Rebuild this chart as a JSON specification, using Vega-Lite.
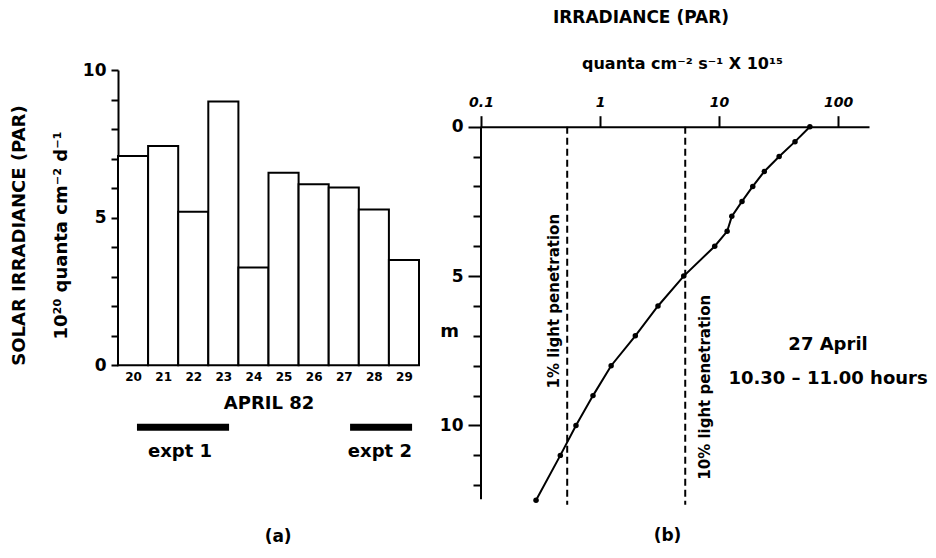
{
  "$schema": "https://vega.github.io/schema/vega-lite/v6.json",
  "background": "white",
  "padding": {"left": 10, "top": 8, "right": 0, "bottom": 0},
  "autosize": {"type": "pad"},
  "spacing": 19,
  "datasets": {
    "solar": [
      {"day": 20, "irradiance": 7.09},
      {"day": 21, "irradiance": 7.43},
      {"day": 22, "irradiance": 5.2},
      {"day": 23, "irradiance": 8.93},
      {"day": 24, "irradiance": 3.31},
      {"day": 25, "irradiance": 6.52},
      {"day": 26, "irradiance": 6.13},
      {"day": 27, "irradiance": 6.02},
      {"day": 28, "irradiance": 5.28},
      {"day": 29, "irradiance": 3.57}
    ],
    "expts": [
      {"label": "expt 1", "start": 20.13, "end": 23.19, "mid": 21.56},
      {"label": "expt 2", "start": 27.21, "end": 29.27, "mid": 28.2}
    ],
    "profile": [
      {"depth": 0, "irr": 58},
      {"depth": 0.5, "irr": 43.5},
      {"depth": 1, "irr": 32},
      {"depth": 1.5, "irr": 24},
      {"depth": 2, "irr": 19.2},
      {"depth": 2.5, "irr": 15.6},
      {"depth": 3, "irr": 12.8},
      {"depth": 3.5, "irr": 11.7},
      {"depth": 4, "irr": 9.2},
      {"depth": 5, "irr": 5.05},
      {"depth": 6, "irr": 3.07},
      {"depth": 7, "irr": 1.98},
      {"depth": 8, "irr": 1.24},
      {"depth": 9, "irr": 0.873},
      {"depth": 10, "irr": 0.628},
      {"depth": 11, "irr": 0.464},
      {"depth": 12.5, "irr": 0.29}
    ],
    "penetration": [
      {"label": "1% light penetration", "irr": 0.53, "labelIrr": 0.408, "labelDepth": 5.84},
      {"label": "10% light penetration", "irr": 5.2, "labelIrr": 7.63, "labelDepth": 8.72}
    ],
    "notes": [
      {"text": "27 April", "irr": 82.4, "depth": 7.32},
      {"text": "10.30 – 11.00 hours", "irr": 82.4, "depth": 8.45}
    ]
  },
  "config": {
    "view": {"stroke": null},
    "axis": {
      "domainColor": "black", "tickColor": "black", "labelColor": "black", "titleColor": "black",
      "labelFont": "DejaVu Sans", "titleFont": "DejaVu Sans",
      "labelFontWeight": "bold", "titleFontWeight": "bold",
      "domainWidth": 2, "tickWidth": 2, "grid": false
    },
    "text": {"font": "DejaVu Sans", "fontWeight": "bold", "color": "black"},
    "title": {"font": "DejaVu Sans", "fontWeight": "bold", "color": "black"}
  },
  "hconcat": [
    {
      "width": 301,
      "height": 295.3,
      "resolve": {"axis": {"x": "independent", "y": "independent"}},
      "layer": [
        {
          "data": {"name": "solar"},
          "mark": {"type": "bar", "orient": "vertical", "width": 30.1, "fill": "white", "stroke": "black", "strokeWidth": 2},
          "encoding": {
            "x": {
              "field": "day", "type": "quantitative",
              "scale": {"domain": [19.5, 29.5], "nice": false, "zero": false, "padding": 0},
              "axis": {
                "orient": "bottom", "values": [20, 21, 22, 23, 24, 25, 26, 27, 28, 29],
                "ticks": false, "domain": false, "labelFontSize": 12, "labelPadding": 6,
                "labelFlush": false, "format": "d",
                "title": "APRIL 82", "titleFontSize": 18, "titlePadding": 12
              }
            },
            "y": {
              "field": "irradiance", "type": "quantitative",
              "scale": {"domain": [0, 10], "nice": false, "padding": 0},
              "axis": {
                "orient": "left",
                "values": [0, 1, 2, 3, 4, 5, 6, 7, 8, 9, 10],
                "tickSize": 7,
                "labelExpr": "datum.value % 5 === 0 ? datum.label : ''",
                "labelFontSize": 17, "labelPadding": 5,
                "title": ["SOLAR IRRADIANCE (PAR)", "10²⁰ quanta cm⁻² d⁻¹"],
                "titleFontSize": 18, "titleLineHeight": 42, "titlePadding": 12, "titleY": 165
              }
            }
          }
        },
        {
          "data": {"name": "expts"},
          "mark": {"type": "rule", "strokeWidth": 7, "color": "black"},
          "encoding": {
            "x": {"field": "start", "type": "quantitative", "axis": null},
            "x2": {"field": "end"},
            "y": {"datum": -2.1, "type": "quantitative", "axis": null}
          }
        },
        {
          "data": {"name": "expts"},
          "mark": {"type": "text", "fontSize": 18, "baseline": "middle", "align": "center"},
          "encoding": {
            "x": {"field": "mid", "type": "quantitative", "axis": null},
            "y": {"datum": -2.95, "type": "quantitative", "axis": null},
            "text": {"field": "label"}
          }
        },
        {
          "data": {"values": [{"panel": "(a)"}]},
          "mark": {"type": "text", "fontSize": 17, "baseline": "middle", "align": "center"},
          "encoding": {
            "x": {"datum": 24.82, "type": "quantitative", "axis": null},
            "y": {"datum": -5.8, "type": "quantitative", "axis": null},
            "text": {"field": "panel"}
          }
        }
      ]
    },
    {
      "width": 388,
      "height": 429.3,
      "title": {"text": "IRRADIANCE (PAR)", "fontSize": 17, "dx": -34, "offset": 29, "anchor": "middle"},
      "resolve": {"axis": {"x": "independent", "y": "independent"}},
      "layer": [
        {
          "data": {"name": "profile"},
          "mark": {"type": "line", "color": "black", "strokeWidth": 2, "point": {"filled": true, "size": 30, "color": "black"}},
          "encoding": {
            "x": {
              "field": "irr", "type": "quantitative",
              "scale": {"type": "log", "domain": [0.1, 182], "nice": false},
              "axis": {
                "orient": "top", "offset": -56.7, "values": [0.1, 1, 10, 100], "format": "~g",
                "tickSize": 11, "labelPadding": 6, "labelFontSize": 14, "labelFontStyle": "italic",
                "labelFlush": false,
                "title": "quanta cm⁻² s⁻¹ X 10¹⁵", "titleFontSize": 16, "titleX": 201, "titlePadding": 24
              }
            },
            "y": {
              "field": "depth", "type": "quantitative",
              "scale": {"domain": [-1.898, 12.47], "reverse": true, "nice": false, "zero": false},
              "axis": {
                "orient": "left", "values": [0, 1, 2, 3, 4, 5, 6, 7, 8, 9, 10, 11, 12],
                "domain": false,
                "tickSize": {"condition": {"test": "datum.value % 5 === 0", "value": 13}, "value": 8},
                "labelExpr": "datum.value % 5 === 0 ? datum.label : ''",
                "labelFontSize": 17, "labelPadding": 5,
                "title": "m", "titleAngle": 0, "titleX": -32, "titleY": 261,
                "titleAlign": "center", "titleBaseline": "middle", "titleFontSize": 18
              }
            },
            "order": {"field": "depth", "type": "quantitative"}
          }
        },
        {
          "data": {"values": [{"edge": "axis"}]},
          "mark": {"type": "rule", "strokeWidth": 2, "color": "black"},
          "encoding": {
            "x": {"datum": 0.1, "type": "quantitative", "axis": null},
            "y": {"datum": 0, "type": "quantitative", "axis": null},
            "y2": {"datum": 12.47}
          }
        },
        {
          "data": {"name": "penetration"},
          "mark": {"type": "rule", "strokeDash": [7, 4], "strokeWidth": 2, "color": "black"},
          "encoding": {
            "x": {"field": "irr", "type": "quantitative", "axis": null},
            "y": {"datum": 0, "type": "quantitative", "axis": null},
            "y2": {"datum": 12.65}
          }
        },
        {
          "data": {"name": "penetration"},
          "mark": {"type": "text", "angle": 270, "fontSize": 15, "align": "center", "baseline": "middle"},
          "encoding": {
            "x": {"field": "labelIrr", "type": "quantitative", "axis": null},
            "y": {"field": "labelDepth", "type": "quantitative", "axis": null},
            "text": {"field": "label"}
          }
        },
        {
          "data": {"name": "notes"},
          "mark": {"type": "text", "fontSize": 18, "align": "center", "baseline": "middle"},
          "encoding": {
            "x": {"field": "irr", "type": "quantitative", "axis": null},
            "y": {"field": "depth", "type": "quantitative", "axis": null},
            "text": {"field": "text"}
          }
        },
        {
          "data": {"values": [{"panel": "(b)"}]},
          "mark": {"type": "text", "fontSize": 17, "baseline": "middle", "align": "center"},
          "encoding": {
            "x": {"datum": 3.69, "type": "quantitative", "axis": null},
            "y": {"datum": 13.71, "type": "quantitative", "axis": null},
            "text": {"field": "panel"}
          }
        }
      ]
    }
  ]
}
